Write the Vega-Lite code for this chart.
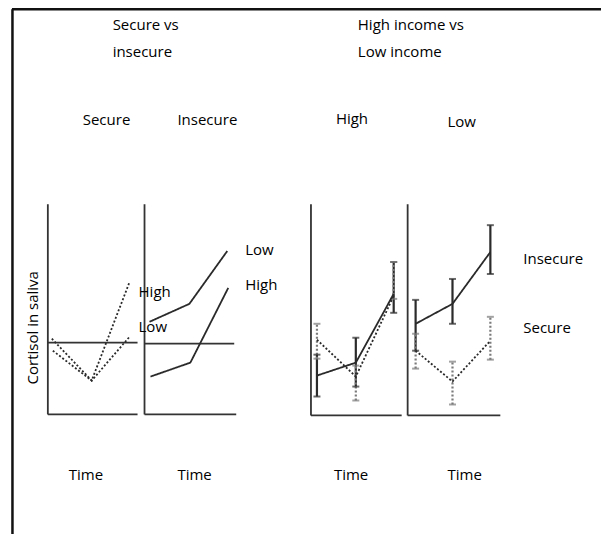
{
  "$schema": "https://vega.github.io/schema/vega-lite/v6.json",
  "width": 603,
  "height": 536,
  "autosize": {"type": "fit", "contains": "padding"},
  "padding": 0,
  "background": "white",
  "config": {"view": {"stroke": null}},
  "datasets": {
    "frame": [
      {"part": "frame-left", "x": 12.5, "x2": 12.5, "y": 20.33, "y2": -6},
      {"part": "frame-top", "x": 12, "x2": 603, "y": 20.33, "y2": 20.33}
    ],
    "rules": [
      {"part": "p1-axis", "x": 48, "x2": 48, "y": 0, "y2": 10.55},
      {"part": "p1-base", "x": 48, "x2": 138, "y": 0, "y2": 0},
      {"part": "p2-axis", "x": 145, "x2": 145, "y": 0, "y2": 10.55},
      {"part": "p2-base", "x": 145, "x2": 237, "y": 0, "y2": 0},
      {"part": "p3-axis", "x": 312, "x2": 312, "y": -0.05, "y2": 10.55},
      {"part": "p3-base", "x": 312, "x2": 403, "y": -0.05, "y2": -0.05},
      {"part": "p4-axis", "x": 409, "x2": 409, "y": -0.05, "y2": 10.55},
      {"part": "p4-base", "x": 409, "x2": 502, "y": -0.05, "y2": -0.05},
      {"part": "p1-ref", "x": 48, "x2": 138, "y": 3.6, "y2": 3.6},
      {"part": "p2-ref", "x": 145, "x2": 235, "y": 3.55, "y2": 3.55}
    ],
    "lines": [
      {"series": "p1-high", "style": "dashed", "x": 52, "c": 3.8},
      {"series": "p1-high", "style": "dashed", "x": 92, "c": 1.7},
      {"series": "p1-high", "style": "dashed", "x": 130, "c": 6.65},
      {"series": "p1-low", "style": "dashed", "x": 53, "c": 3.2},
      {"series": "p1-low", "style": "dashed", "x": 92, "c": 1.7},
      {"series": "p1-low", "style": "dashed", "x": 130, "c": 3.9},
      {"series": "p2-low", "style": "solid", "x": 150, "c": 4.65},
      {"series": "p2-low", "style": "solid", "x": 190, "c": 5.55},
      {"series": "p2-low", "style": "solid", "x": 228, "c": 8.2},
      {"series": "p2-high", "style": "solid", "x": 151, "c": 1.9},
      {"series": "p2-high", "style": "solid", "x": 191, "c": 2.6},
      {"series": "p2-high", "style": "solid", "x": 229, "c": 6.35},
      {"series": "p3-insecure", "style": "solid", "x": 318, "c": 1.95},
      {"series": "p3-insecure", "style": "solid", "x": 357, "c": 2.6},
      {"series": "p3-insecure", "style": "solid", "x": 395, "c": 6.05},
      {"series": "p3-secure", "style": "dashed", "x": 318, "c": 3.75},
      {"series": "p3-secure", "style": "dashed", "x": 357, "c": 1.9},
      {"series": "p3-secure", "style": "dashed", "x": 395, "c": 5.95},
      {"series": "p4-insecure", "style": "solid", "x": 417, "c": 4.55},
      {"series": "p4-insecure", "style": "solid", "x": 454, "c": 5.55},
      {"series": "p4-insecure", "style": "solid", "x": 492, "c": 8.15},
      {"series": "p4-secure", "style": "dashed", "x": 417, "c": 3.2},
      {"series": "p4-secure", "style": "dashed", "x": 454, "c": 1.65},
      {"series": "p4-secure", "style": "dashed", "x": 492, "c": 3.7}
    ],
    "errors": [
      {"series": "p3-insecure", "style": "solid", "x": 318, "lo": 0.9, "hi": 3.0},
      {"series": "p3-insecure", "style": "solid", "x": 357, "lo": 1.4, "hi": 3.85},
      {"series": "p3-insecure", "style": "solid", "x": 395, "lo": 5.1, "hi": 7.65},
      {"series": "p3-secure", "style": "dashed", "x": 318, "lo": 2.8, "hi": 4.55},
      {"series": "p3-secure", "style": "dashed", "x": 357, "lo": 0.7, "hi": 2.45},
      {"series": "p3-secure", "style": "dashed", "x": 395, "lo": 5.8, "hi": 7.65},
      {"series": "p4-insecure", "style": "solid", "x": 417, "lo": 3.2, "hi": 5.75},
      {"series": "p4-insecure", "style": "solid", "x": 454, "lo": 4.55, "hi": 6.8},
      {"series": "p4-insecure", "style": "solid", "x": 492, "lo": 7.05, "hi": 9.5},
      {"series": "p4-secure", "style": "dashed", "x": 417, "lo": 2.3, "hi": 4.05},
      {"series": "p4-secure", "style": "dashed", "x": 454, "lo": 0.5, "hi": 2.65},
      {"series": "p4-secure", "style": "dashed", "x": 492, "lo": 2.75, "hi": 4.9}
    ],
    "labels": [
      {"text": "Secure vs", "x": 113, "c": 19.55},
      {"text": "insecure", "x": 113, "c": 18.2},
      {"text": "High income vs", "x": 359, "c": 19.55},
      {"text": "Low income", "x": 359, "c": 18.2},
      {"text": "Secure", "x": 83, "c": 14.8},
      {"text": "Insecure", "x": 178, "c": 14.8},
      {"text": "High", "x": 337, "c": 14.85},
      {"text": "Low", "x": 449, "c": 14.7},
      {"text": "High", "x": 139, "c": 6.15},
      {"text": "Low", "x": 139, "c": 4.4},
      {"text": "Low", "x": 246, "c": 8.25},
      {"text": "High", "x": 246, "c": 6.5},
      {"text": "Insecure", "x": 525, "c": 7.8},
      {"text": "Secure", "x": 525, "c": 4.35},
      {"text": "Time", "x": 69, "c": -3.05},
      {"text": "Time", "x": 178, "c": -3.05},
      {"text": "Time", "x": 335, "c": -3.05},
      {"text": "Time", "x": 449, "c": -3.05}
    ],
    "ylabel": [
      {"text": "Cortisol in saliva", "x": 33, "c": 4.35}
    ]
  },
  "layer": [
    {
      "data": {"name": "frame"},
      "mark": {"type": "rule", "color": "#111111", "strokeWidth": 2.5},
      "encoding": {
        "x": {"field": "x", "type": "quantitative", "scale": {"domain": [0, 603], "nice": false, "zero": false}, "axis": null},
        "x2": {"field": "x2"},
        "y": {"field": "y", "type": "quantitative", "scale": {"domain": [-6, 20.8], "nice": false, "zero": false}, "axis": null},
        "y2": {"field": "y2"}
      }
    },
    {
      "data": {"name": "rules"},
      "mark": {"type": "rule", "color": "#333333", "strokeWidth": 1.8},
      "encoding": {
        "x": {"field": "x", "type": "quantitative", "scale": {"domain": [0, 603], "nice": false, "zero": false}, "axis": null},
        "x2": {"field": "x2"},
        "y": {"field": "y", "type": "quantitative", "scale": {"domain": [-6, 20.8], "nice": false, "zero": false}, "axis": null},
        "y2": {"field": "y2"}
      }
    },
    {
      "data": {"name": "errors"},
      "mark": {"type": "rule", "strokeWidth": 2.2},
      "encoding": {
        "x": {"field": "x", "type": "quantitative", "scale": {"domain": [0, 603], "nice": false, "zero": false}, "axis": null},
        "y": {"field": "lo", "type": "quantitative", "scale": {"domain": [-6, 20.8], "nice": false, "zero": false}, "axis": null},
        "y2": {"field": "hi"},
        "color": {"field": "style", "type": "nominal", "scale": {"domain": ["solid", "dashed"], "range": ["#2b2b2b", "#7a7a7a"]}, "legend": null},
        "strokeDash": {"field": "style", "type": "nominal", "scale": {"domain": ["solid", "dashed"], "range": [[1, 0], [2, 2]]}, "legend": null}
      }
    },
    {
      "data": {"name": "errors"},
      "transform": [{"fold": ["lo", "hi"], "as": ["end", "val"]}],
      "mark": {"type": "tick", "orient": "horizontal", "size": 7, "thickness": 2},
      "encoding": {
        "x": {"field": "x", "type": "quantitative", "scale": {"domain": [0, 603], "nice": false, "zero": false}, "axis": null},
        "y": {"field": "val", "type": "quantitative", "scale": {"domain": [-6, 20.8], "nice": false, "zero": false}, "axis": null},
        "color": {"field": "style", "type": "nominal", "scale": {"domain": ["solid", "dashed"], "range": ["#2b2b2b", "#7a7a7a"]}, "legend": null}
      }
    },
    {
      "data": {"name": "lines"},
      "mark": {"type": "line", "color": "#2a2a2a", "strokeWidth": 1.8},
      "encoding": {
        "x": {"field": "x", "type": "quantitative", "scale": {"domain": [0, 603], "nice": false, "zero": false}, "axis": null},
        "y": {"field": "c", "type": "quantitative", "scale": {"domain": [-6, 20.8], "nice": false, "zero": false}, "axis": null},
        "detail": {"field": "series", "type": "nominal"},
        "strokeDash": {"field": "style", "type": "nominal", "scale": {"domain": ["solid", "dashed"], "range": [[1, 0], [5, 3]]}, "legend": null}
      }
    },
    {
      "data": {"name": "labels"},
      "mark": {"type": "text", "align": "left", "baseline": "middle", "font": "Open Sans", "fontSize": 15, "color": "#000000"},
      "encoding": {
        "x": {"field": "x", "type": "quantitative", "scale": {"domain": [0, 603], "nice": false, "zero": false}, "axis": null},
        "y": {"field": "c", "type": "quantitative", "scale": {"domain": [-6, 20.8], "nice": false, "zero": false}, "axis": null},
        "text": {"field": "text", "type": "nominal"}
      }
    },
    {
      "data": {"name": "ylabel"},
      "mark": {"type": "text", "align": "center", "baseline": "middle", "angle": 270, "font": "Open Sans", "fontSize": 15, "color": "#000000"},
      "encoding": {
        "x": {"field": "x", "type": "quantitative", "scale": {"domain": [0, 603], "nice": false, "zero": false}, "axis": null},
        "y": {"field": "c", "type": "quantitative", "scale": {"domain": [-6, 20.8], "nice": false, "zero": false}, "axis": null},
        "text": {"field": "text", "type": "nominal"}
      }
    }
  ]
}
